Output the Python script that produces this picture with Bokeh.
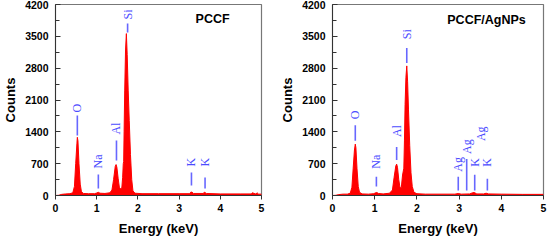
from math import pi
from bokeh.plotting import figure
from bokeh.layouts import row
from bokeh.models import Range1d, FixedTicker, Label
from bokeh.core.properties import value
from bokeh.embed import file_html
from bokeh.resources import INLINE

# ---------------- data ----------------
x_ticks = [0, 1, 2, 3, 4, 5]
y_ticks = [0, 700, 1400, 2100, 2800, 3500, 4200]

# PCCF spectrum (energy keV, counts)
e1 = [0.00, 0.08, 0.15, 0.25, 0.35, 0.42, 0.46, 0.49, 0.52, 0.53, 0.545, 0.57, 0.60, 0.63, 0.68,
      0.80, 0.95, 1.00, 1.04, 1.08, 1.20, 1.32, 1.37, 1.41, 1.45, 1.47, 1.49, 1.52, 1.55, 1.58,
      1.61, 1.63, 1.645, 1.655, 1.665, 1.68, 1.70, 1.72, 1.74, 1.765, 1.79, 1.82, 1.85, 1.88, 1.93,
      2.10, 2.50, 3.00, 3.25, 3.28, 3.31, 3.35, 3.58, 3.62, 3.66, 4.00, 4.50, 4.75, 4.78, 4.85,
      4.90, 4.93, 5.00]
c1 = [0, 5, 25, 35, 40, 60, 200, 700, 1150, 1280, 1200, 700, 250, 80, 45,
      40, 40, 55, 70, 50, 45, 60, 120, 350, 640, 680, 620, 380, 180, 150,
      170, 400, 700, 750, 1400, 2300, 3200, 3560, 3100, 2300, 1650, 900, 350, 100, 50,
      40, 40, 40, 40, 70, 75, 45, 45, 70, 45, 35, 35, 35, 60, 35,
      55, 30, 30]

# PCCF/AgNPs spectrum
e2 = [0.00, 0.08, 0.15, 0.25, 0.35, 0.42, 0.46, 0.49, 0.52, 0.54, 0.555, 0.58, 0.61, 0.64, 0.70,
      0.85, 0.98, 1.02, 1.05, 1.09, 1.20, 1.35, 1.42, 1.46, 1.50, 1.52, 1.54, 1.57, 1.60, 1.63,
      1.66, 1.69, 1.705, 1.72, 1.74, 1.76, 1.78, 1.80, 1.83, 1.86, 1.89, 1.93, 2.00, 2.20, 2.50,
      2.90, 2.98, 3.05, 3.25, 3.32, 3.36, 3.42, 3.58, 3.64, 3.70, 4.00, 4.50, 5.00]
c2 = [0, 5, 20, 30, 30, 50, 180, 600, 1000, 1130, 1050, 600, 200, 70, 35,
      30, 40, 60, 65, 45, 35, 50, 120, 400, 650, 690, 620, 350, 170, 170,
      450, 600, 1200, 2000, 2600, 2850, 2500, 1900, 1100, 500, 200, 70, 40, 30, 30,
      30, 45, 30, 35, 60, 65, 35, 35, 50, 35, 30, 25, 25]

# element markers, PCCF
el1_name = ["O", "Na", "Al", "Si", "K", "K"]
el1_x = [0.53, 1.04, 1.48, 1.75, 3.30, 3.63]
el1_lo = [1320, 155, 770, 3585, 220, 155]
el1_hi = [1760, 460, 1210, 3780, 505, 395]
el1_lab = [1825, 595, 1340, 3870, 640, 640]

# element markers, PCCF/AgNPs
el2_name = ["O", "Na", "Al", "Si", "Ag", "Ag", "K", "Ag", "K"]
el2_x = [0.54, 1.04, 1.52, 1.76, 2.98, 3.18, 3.37, 3.51, 3.67]
el2_lab = [1676, 588, 1284, 3438, 522, 914, 631, 1197, 631]
ln2_x = [0.54, 1.04, 1.52, 1.76, 2.98, 3.18, 3.37, 3.67]
ln2_lo = [1203, 196, 783, 2916, 109, 109, 109, 109]
ln2_hi = [1545, 413, 1066, 3242, 413, 805, 457, 370]

titles = ["PCCF", "PCCF/AgNPs"]
title_pos = [(3.40, 3890), (2.72, 3850)]

BLUE = "#4c4cff"
RED = "#ff0000"


def make_panel(width, borders, e, c, names, xs, labs, lx, llo, lhi, title, tpos):
    bl, br, bt, bb = borders
    p = figure(width=width, height=241, output_backend="svg", toolbar_location=None,
               x_range=Range1d(0, 5), y_range=Range1d(0, 4200),
               min_border_left=bl, min_border_right=br, min_border_top=bt, min_border_bottom=bb,
               outline_line_color="#777777", outline_line_width=1.2)
    p.grid.visible = False
    p.varea(x=e, y1=0, y2=c, fill_color=RED)
    p.line(x=e, y=c, line_color=RED, line_width=1)
    p.segment(x0=lx, y0=llo, x1=lx, y1=lhi, line_color=BLUE, line_width=1.6, line_alpha=0.85)
    p.text(x=xs, y=labs, text=names, angle=pi / 2, text_align="left", text_baseline="middle",
           text_font=value("Liberation Serif"), text_font_size="12px", text_color=BLUE)
    p.add_layout(Label(x=tpos[0], y=tpos[1], text=title, text_font="Liberation Sans",
                       text_font_size="12.5px", text_font_style="bold", text_baseline="middle",
                       text_color="#000000"))

    xa = p.xaxis[0]
    xa.ticker = FixedTicker(ticks=x_ticks)
    xa.axis_label = "Energy (keV)"
    xa.major_tick_in = 0
    xa.major_tick_out = 4
    xa.major_label_standoff = 4
    xa.axis_label_standoff = 6

    ya = p.yaxis[0]
    ya.ticker = FixedTicker(ticks=y_ticks, minor_ticks=[350 + 700 * i for i in range(6)])
    ya.axis_label = "Counts"
    ya.major_tick_in = 5
    ya.major_tick_out = 0
    ya.minor_tick_in = 4
    ya.minor_tick_out = 0
    ya.major_label_standoff = 7
    ya.axis_label_standoff = 4

    for ax in (xa, ya):
        ax.axis_line_color = "#333333"
        ax.major_tick_line_color = "#333333"
        ax.major_label_text_font = "Liberation Sans"
        ax.major_label_text_font_style = "bold"
        ax.major_label_text_font_size = "10.5px"
        ax.major_label_text_color = "#000000"
        ax.axis_label_text_font = "Liberation Sans"
        ax.axis_label_text_font_style = "bold"
        ax.axis_label_text_font_size = "13px"
        ax.axis_label_text_color = "#000000"
    xa.minor_tick_line_color = None
    ya.minor_tick_line_color = "#333333"
    return p


p1 = make_panel(277, (52, 16, 4, 46), e1, c1, el1_name, el1_x, el1_lab,
                el1_x, el1_lo, el1_hi, titles[0], title_pos[0])
p2 = make_panel(270, (55, 4, 4, 44), e2, c2, el2_name, el2_x, el2_lab,
                ln2_x, ln2_lo, ln2_hi, titles[1], title_pos[1])

layout = row(p1, p2, spacing=0)
html = file_html(layout, INLINE)
html = html.replace("<head>", "<head><style>html,body{margin:0;padding:0;}</style>", 1)
open("out.html", "w").write(html)
